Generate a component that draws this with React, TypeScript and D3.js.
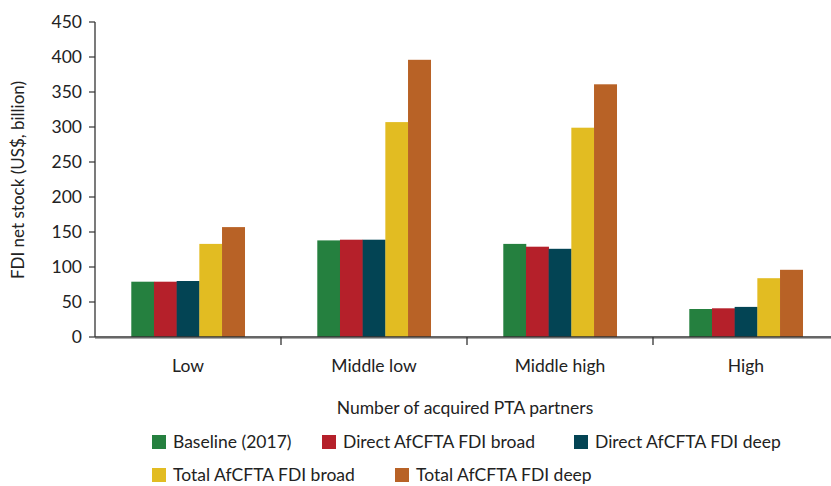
import React from "react";
import * as d3 from "d3";

const categories = ["Low", "Middle low", "Middle high", "High"];
const seriesNames = [
  "Baseline (2017)",
  "Direct AfCFTA FDI broad",
  "Direct AfCFTA FDI deep",
  "Total AfCFTA FDI broad",
  "Total AfCFTA FDI deep",
];
const baseline = [79, 138, 133, 40];
const directBroad = [79, 139, 129, 41];
const directDeep = [80, 139, 126, 43];
const totalBroad = [133, 307, 299, 84];
const totalDeep = [157, 396, 361, 96];
const yTicks = [0, 50, 100, 150, 200, 250, 300, 350, 400, 450];
const colors = ["#25803f", "#b5202a", "#034454", "#e2bc22", "#b86226"];

const series = [baseline, directBroad, directDeep, totalBroad, totalDeep];

export default function App() {
  const W = 831, H = 486;
  const x0 = 95, x1 = 839, yTop = 22, yBot = 337;
  const font = "Lato, 'Open Sans', sans-serif";
  const fs = 17.5;
  const x = d3.scaleBand().domain(categories).range([x0, x1]);
  const inner = d3.scaleBand().domain(seriesNames).range([0, x.bandwidth()]).paddingOuter(1.6);
  const y = d3.scaleLinear().domain([0, 450]).range([yBot, yTop]);
  const legendRows = [
    [{ i: 0, x: 152 }, { i: 1, x: 322 }, { i: 2, x: 574 }],
    [{ i: 3, x: 152 }, { i: 4, x: 395 }],
  ];
  return (
    <svg width={W} height={H} style={{ position: "absolute", left: 0, top: 0 }} fontFamily={font}>
      <rect width={W} height={H} fill="#fff" />
      {categories.map((c, ci) =>
        series.map((s, si) => (
          <rect
            key={c + si}
            x={(x(c) as number) + (inner(seriesNames[si]) as number)}
            y={y(s[ci])}
            width={inner.bandwidth() + 0.3}
            height={yBot - y(s[ci])}
            fill={colors[si]}
          />
        ))
      )}
      <line x1={x0} x2={x0} y1={yTop} y2={yBot} stroke="#333" strokeWidth={1.3} />
      {yTicks.map((t) => (
        <g key={t}>
          <line x1={x0 - 6} x2={x0} y1={y(t)} y2={y(t)} stroke="#333" strokeWidth={1.2} />
          <text x={x0 - 13} y={y(t)} dy="0.35em" textAnchor="end" fontSize={fs} fill="#222">
            {t}
          </text>
        </g>
      ))}
      <line x1={x0} x2={W} y1={yBot} y2={yBot} stroke="#333" strokeWidth={1.6} />
      <line x1={x0} x2={W} y1={yBot + 1.5} y2={yBot + 1.5} stroke="#aaa" strokeWidth={1} />
      {categories.slice(1).map((c) => (
        <line key={c} x1={x(c) as number} x2={x(c) as number} y1={yBot} y2={yBot + 8} stroke="#333" strokeWidth={1.3} />
      ))}
      {categories.map((c) => (
        <text key={c} x={(x(c) as number) + x.bandwidth() / 2} y={366} dy="0.36em" textAnchor="middle" fontSize={fs} fill="#222">
          {c}
        </text>
      ))}
      <text x={465} y={408} dy="0.36em" textAnchor="middle" fontSize={fs} fill="#222">
        Number of acquired PTA partners
      </text>
      <text transform={`translate(24,180) rotate(-90)`} textAnchor="middle" fontSize={17} fill="#222">
        FDI net stock (US$, billion)
      </text>
      {legendRows.map((row, ri) =>
        row.map(({ i, x: lx }) => (
          <g key={i}>
            <rect x={lx} y={435 + ri * 33} width={14} height={14} fill={colors[i]} />
            <text x={lx + 21} y={442 + ri * 33} dy="0.36em" fontSize={fs} fill="#222">
              {seriesNames[i]}
            </text>
          </g>
        ))
      )}
    </svg>
  );
}
